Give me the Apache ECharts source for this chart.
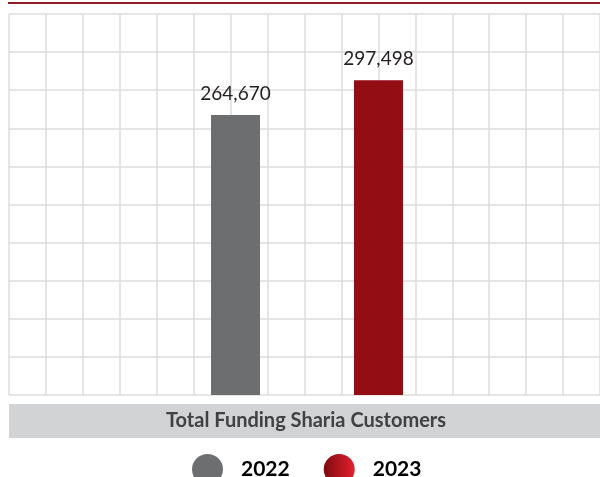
<!DOCTYPE html>
<html><head><meta charset="utf-8">
<script src="https://cdn.jsdelivr.net/npm/echarts@6/dist/echarts.min.js"></script>
<style>html,body{margin:0;padding:0;background:#fff}#c{width:600px;height:477px}</style>
</head><body><div id="c"></div>
<script>
const categories = ['2022', '2023'];
const values2022 = [264670, '-'];
const values2023 = ['-', 297498];
const chartTitle = 'Total Funding Sharia Customers';

const chart = echarts.init(document.getElementById('c'), null, {renderer: 'canvas'});
const redGrad = new echarts.graphic.LinearGradient(0, 0, 1, 0, [
  {offset: 0, color: '#7d0a10'}, {offset: 1, color: '#e5202e'}
]);
const labelCfg = {
  show: true, position: 'top', distance: 12,
  fontFamily: 'Lato', fontSize: 19, color: '#231f20',
  formatter: p => Number(p.value).toLocaleString('en-US')
};
chart.setOption({
  animation: false,
  grid: [
    {left: 9, right: -5, top: 14, bottom: 82},
    {left: 164, right: 150, top: 14, bottom: 82}
  ],
  xAxis: [
    {gridIndex: 0, type: 'value', min: 0, max: 16, interval: 1,
     axisLabel: {show: false}, axisTick: {show: false}, axisLine: {show: false},
     splitLine: {show: true, lineStyle: {color: '#dcdcdc', width: 1.5}}},
    {gridIndex: 1, type: 'category', data: categories,
     axisLabel: {show: false}, axisTick: {show: false}, axisLine: {show: false}}
  ],
  yAxis: [
    {gridIndex: 0, type: 'value', min: 0, max: 360000, interval: 36000,
     axisLabel: {show: false}, axisTick: {show: false}, axisLine: {show: false},
     splitLine: {show: true, lineStyle: {color: '#dcdcdc', width: 1.5}}},
    {gridIndex: 1, type: 'value', min: 0, max: 360000, interval: 36000,
     axisLabel: {show: false}, axisTick: {show: false}, axisLine: {show: false},
     splitLine: {show: false}}
  ],
  legend: {
    left: 187, top: 449, itemWidth: 31, itemHeight: 31, itemGap: 34,
    icon: 'circle',
    textStyle: {fontFamily: 'Lato', fontWeight: 'bold', fontSize: 21, color: '#000', padding: [0, 0, 0, 13]},
    data: [
      {name: '2022', itemStyle: {color: '#6d6e70'}},
      {name: '2023', itemStyle: {color: redGrad}}
    ]
  },
  series: [
    {name: '2022', type: 'bar', xAxisIndex: 1, yAxisIndex: 1, barWidth: 49, barGap: '-100%',
     data: values2022, itemStyle: {color: '#6d6e70'}, label: labelCfg},
    {name: '2023', type: 'bar', xAxisIndex: 1, yAxisIndex: 1, barWidth: 49, barGap: '-100%',
     data: values2023, itemStyle: {color: '#930d15'}, label: labelCfg}
  ],
  graphic: [
    {type: 'line', shape: {x1: 8, y1: 3, x2: 600, y2: 3}, style: {stroke: '#8e1a24', lineWidth: 2}},
    {type: 'rect', shape: {x: 9, y: 404, width: 591, height: 34}, style: {fill: '#d1d3d4'}},
    {type: 'text', x: 306, y: 421, style: {text: chartTitle, fontFamily: 'Lato', fontWeight: 'bold', fontSize: 20, fill: '#414042', align: 'center', verticalAlign: 'middle'}}
  ]
});
</script></body></html>
